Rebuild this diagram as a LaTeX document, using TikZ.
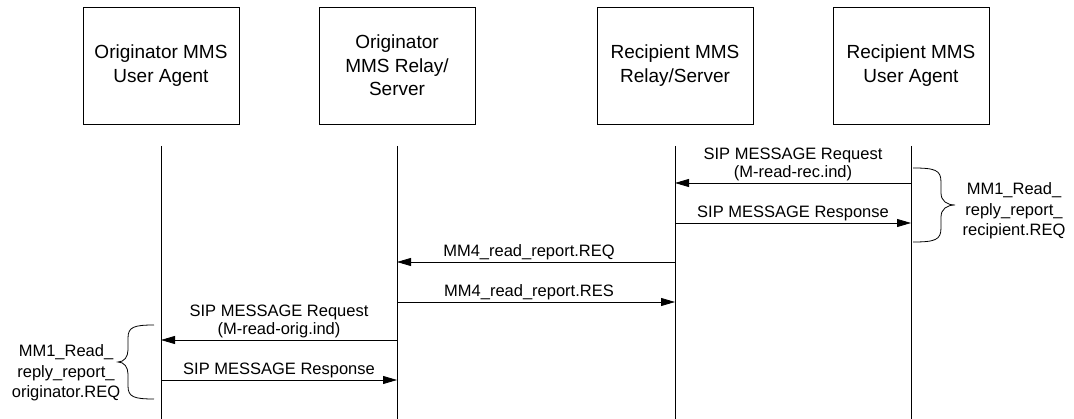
\documentclass[tikz,border=0pt]{standalone}
\usepackage{fontspec}
\setmainfont{Liberation Sans}
\usetikzlibrary{arrows.meta}

\begin{document}
\begin{tikzpicture}[x=1pt, y=-1pt, line width=.8pt,
	actor/.style={draw, minimum width=156pt, minimum height=117pt, align=center, font=\fontsize{19}{23.5}\selectfont},
	msg/.style={-{Triangle[length=14pt, width=8pt]}},
	lbl/.style={above, inner sep=1.5pt, align=center, font=\fontsize{16.5}{18.5}\selectfont},
	note/.style={align=center, font=\fontsize{16.5}{20.5}\selectfont}]
	\useasboundingbox (0,0) rectangle (1074,419);

	% actors
	\node[actor] (oua) at (161, 65.5) {Originator MMS\\User Agent};
	\node[actor] (ors) at (397, 65.5) {Originator\\MMS Relay/\\Server};
	\node[actor] (rrs) at (675, 65.5) {Recipient MMS\\Relay/Server};
	\node[actor] (rua) at (911, 65.5) {Recipient MMS\\User Agent};

	% lifelines
	\foreach \a in {oua, ors, rrs, rua}
		\draw (\a |- 0,146) -- (\a |- 0,419);

	% recipient side
	\draw[msg] (rua |- 0,183) -- (rrs |- 0,183) node[lbl, midway] {SIP MESSAGE Request\\(M-read-rec.ind)};
	\draw[msg] (rrs |- 0,223) -- (rua |- 0,223) node[lbl, midway] {SIP MESSAGE Response};

	% relay to relay
	\draw[msg] (rrs |- 0,262) -- (ors |- 0,262) node[lbl, midway, xshift=-7pt] {MM4\_read\_report.REQ};
	\draw[msg] (ors |- 0,302) -- (rrs |- 0,302) node[lbl, midway, xshift=-7pt] {MM4\_read\_report.RES};

	% originator side
	\draw[msg] (ors |- 0,340) -- (oua |- 0,340) node[lbl, midway] {SIP MESSAGE Request\\(M-read-orig.ind)};
	\draw[msg] (oua |- 0,380) -- (ors |- 0,380) node[lbl, midway] {SIP MESSAGE Response};

	% braces
	\draw (913,168) .. controls (935,168) and (941,170) .. (941,182) -- (941,193)
		.. controls (941,201) and (947,205) .. (955,205)
		.. controls (947,205) and (941,209) .. (941,217) -- (941,228)
		.. controls (941,240) and (935,242) .. (913,242);
	\node[note] (recnote) at (1014, 211) {MM1\_Read\_\\reply\_report\_\\recipient.REQ};

	\draw (154,325) .. controls (134,325) and (128,327) .. (128,338) -- (128,350)
		.. controls (128,357) and (124,362) .. (118,362)
		.. controls (124,362) and (128,367) .. (128,374) -- (128,386)
		.. controls (128,397) and (134,399) .. (154,399);
	\node[note] (orignote) at (66, 373) {MM1\_Read\_\\reply\_report\_\\originator.REQ};
\end{tikzpicture}
\end{document}
